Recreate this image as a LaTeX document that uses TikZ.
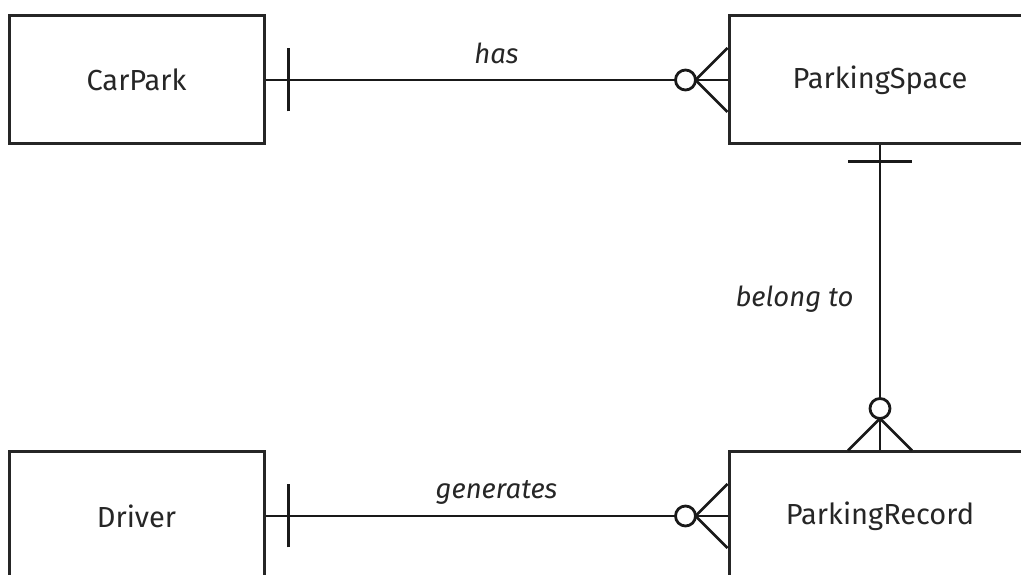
\documentclass[tikz,border=0pt]{standalone}
\usepackage{fontspec}
\setmainfont{Fira Sans}
\usetikzlibrary{calc}
\begin{document}
\begin{tikzpicture}[x=1pt,y=1pt]
        \tikzstyle{entity}=[rectangle,draw=black!85,line width=3pt,minimum height=128pt,font=\fontsize{29}{33}\selectfont,text=black!85]
        \tikzstyle{rel}=[draw=black!90,line width=2.8pt]
        \tikzstyle{ring}=[circle,draw=black!90,line width=2.8pt,fill=white,inner sep=0pt,minimum size=20pt]
        \tikzstyle{lbl}=[font=\fontsize{27.5}{31}\selectfont\itshape,text=black!85]
       \useasboundingbox (0,0) rectangle (1021,575);
       \clip (0,0) rectangle (1021,575);
       \begin{scope}
         \node [entity,minimum width=255pt] (carpark) at (136.5,495) {CarPark};
         \node [entity,minimum width=302pt] (space) at (880,495) {ParkingSpace};
         \node [entity,minimum width=255pt] (driver) at (136.5,59) {Driver};
         \node [entity,minimum width=302pt] (record) at (880,59) {ParkingRecord};
         % has
         \path[rel] (carpark.east) -- node[lbl,anchor=base,yshift=16pt] {has} (space.west);
         \draw[rel] ($(carpark.east)+(23,-31.5)$) -- ($(carpark.east)+(23,31.5)$);
         \draw[rel] ($(space.west)+(-32,0)$) -- ($(space.west)+(0,32)$);
         \draw[rel] ($(space.west)+(-32,0)$) -- ($(space.west)+(0,-32)$);
         \node [ring] (r1) at ($(space.west)+(-42,0)$) {};
         % generates
         \path[rel] (driver.east) -- node[lbl,anchor=base,yshift=17pt] {generates} (record.west);
         \draw[rel] ($(driver.east)+(23,-31.5)$) -- ($(driver.east)+(23,31.5)$);
         \draw[rel] ($(record.west)+(-32,0)$) -- ($(record.west)+(0,32)$);
         \draw[rel] ($(record.west)+(-32,0)$) -- ($(record.west)+(0,-32)$);
         \node [ring] (r2) at ($(record.west)+(-42,0)$) {};
         % belong to
         \path[rel] (space.south) -- (record.north);
         \node [lbl,anchor=base east] (belong) at ($(space.south)+(-23,-161)$) {belong to};
         \draw[rel] ($(space.south)+(-32,-16)$) -- ($(space.south)+(32,-16)$);
         \draw[rel] ($(record.north)+(0,32)$) -- ($(record.north)+(-32,0)$);
         \draw[rel] ($(record.north)+(0,32)$) -- ($(record.north)+(32,0)$);
         \node [ring] (r3) at ($(record.north)+(0,42)$) {};
        \end{scope}
      \end{tikzpicture}
\end{document}
